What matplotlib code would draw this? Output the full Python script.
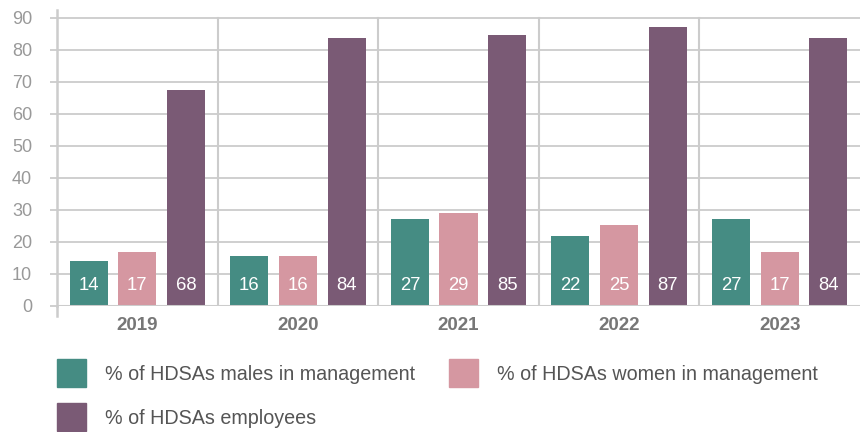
import matplotlib
matplotlib.use("Agg")
import matplotlib.pyplot as plt
from matplotlib.patches import Rectangle
import numpy as np

years = ["2019", "2020", "2021", "2022", "2023"]
males_mgmt = [14.1, 15.6, 27.2, 21.9, 27.2]
women_mgmt = [16.9, 15.6, 29.0, 25.3, 16.9]
employees = [67.6, 83.8, 84.8, 87.2, 83.8]
series_names = ["% of HDSAs males in management",
                "% of HDSAs women in management",
                "% of HDSAs employees"]
colors = ["#458C83", "#D597A1", "#7A5A75"]
yticks = [0, 10, 20, 30, 40, 50, 60, 70, 80, 90]

plt.rcParams['font.family'] = ['Liberation Sans', 'DejaVu Sans']

fig = plt.figure(figsize=(8.64, 4.32), dpi=100)
ax = fig.add_axes([57/864, 1-306/432, (860-57)/864, (306-10)/432])

x = np.arange(len(years))
width = 0.237
offset = 0.303
grid_c = "#cccccc"

for i, vals in enumerate([males_mgmt, women_mgmt, employees]):
    pos = x + (i - 1) * offset
    ax.bar(pos, vals, width=width, color=colors[i], zorder=3)
    for p, v in zip(pos, vals):
        ax.text(p, 6.5, f"{v:.0f}", ha='center', va='center', color='white',
                fontsize=13.3, zorder=4)

ax.set_xlim(-0.5, len(years) - 0.5)
ax.set_ylim(0, 92.5)
ax.set_yticks(yticks)
ax.set_yticklabels([str(t) for t in yticks])
ax.set_xticks(x)
ax.set_xticklabels(years, fontweight='bold')

for t in yticks:
    ax.axhline(t, color=grid_c, lw=1.3, zorder=1)
for b in np.arange(0.5, len(years) - 0.5, 1.0):
    ax.plot([b, b], [0, 90], color=grid_c, lw=1.5, zorder=1)

for s in ['top', 'right', 'bottom']:
    ax.spines[s].set_visible(False)
ax.spines['left'].set_color(grid_c)
ax.spines['left'].set_linewidth(1.8)
ax.spines['left'].set_zorder(5)
ax.plot([-0.5, -0.5], [0, -3.2], color=grid_c, lw=1.8, clip_on=False, zorder=5)
ax.axhline(0, color=grid_c, lw=2.2, zorder=5)

ax.tick_params(axis='y', length=5, width=1.3, color=grid_c, pad=13,
               labelsize=13, labelcolor='#999999')
ax.tick_params(axis='x', length=0, pad=8, labelsize=13.5, labelcolor='#777777')

# Legend (figure pixel positions)
leg = [(57, 359, 105, 374, 0), (449, 359, 497, 374, 1), (57, 403, 105, 418, 2)]
for (sx, sy, tx, ty, idx) in leg:
    fig.patches.append(Rectangle((sx/864, 1-(sy+28)/432), 29/864, 28/432,
                                 transform=fig.transFigure, color=colors[idx]))
    fig.text(tx/864, 1-ty/432, series_names[idx], ha='left',
             va='center', fontsize=14.2, color='#555555')

fig.savefig("out.png", dpi=100)
